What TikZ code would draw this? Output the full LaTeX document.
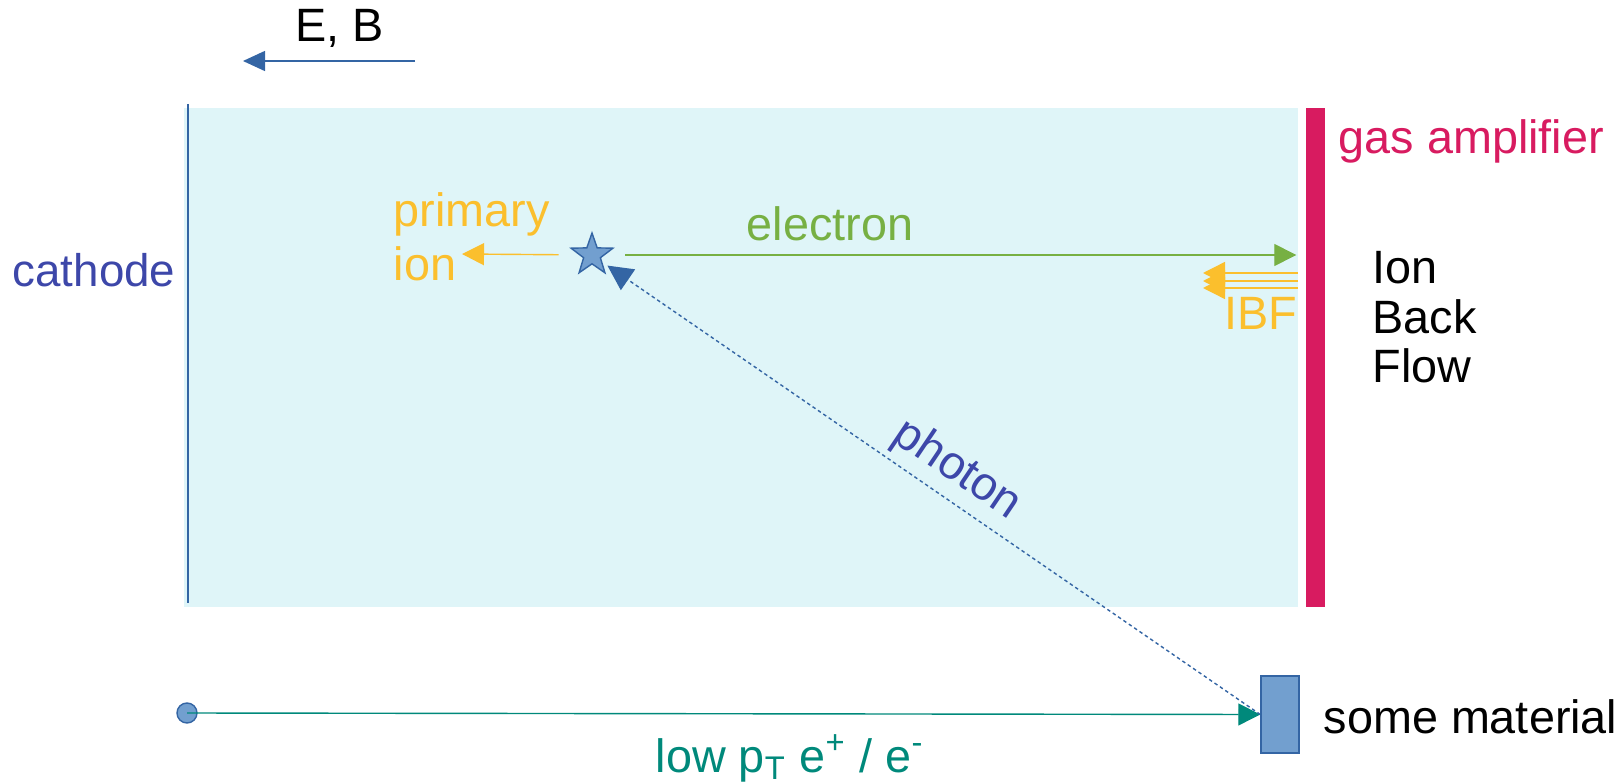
\documentclass[tikz,border=0pt]{standalone}
\usepackage{fontspec}
\setmainfont{Liberation Sans}
\usetikzlibrary{arrows.meta,shapes.geometric}
\definecolor{driftbg}{HTML}{DFF5F8}
\definecolor{darkblue}{HTML}{3465A4}
\definecolor{lightblue}{HTML}{729FCF}
\definecolor{indigo}{HTML}{3D47A9}
\definecolor{amber}{HTML}{FBBF2D}
\definecolor{leaf}{HTML}{77B043}
\definecolor{tealgreen}{HTML}{00897B}
\definecolor{rosered}{HTML}{D81B60}
\begin{document}
\begin{tikzpicture}[x=0.01cm,y=-0.01cm,
  lbl/.style={inner sep=0pt,font=\fontsize{13.3}{14.2}\selectfont},
  tip/.style={-{Triangle[length=2.2mm,width=2.2mm]}},
  thinline/.style={line width=0.4pt}]
\useasboundingbox (0,0) rectangle (1621,782);
% drift volume
\fill[driftbg] (184,108) rectangle (1298,607);
\draw[darkblue,line width=0.7pt] (188,104) -- (188,603);
\node[fill=rosered,inner sep=0pt,minimum width=1.9mm,minimum height=4.99cm] (amp) at (1315.5,357.5) {};
% labels
\node[lbl,anchor=base west] (eb) at (295,42) {E, B};
\node[lbl,text=indigo,anchor=base west,font=\fontsize{13}{14}\selectfont] (cath) at (12,287) {cathode};
\node[lbl,text=rosered,anchor=base west] (gas) at (1338,154) {gas amplifier};
\node[lbl,anchor=base west,align=left] (ibflab) at (1372,383) {Ion\\Back\\Flow};
\node[lbl,text=amber,anchor=base west,align=left,font=\fontsize{13.3}{15.6}\selectfont] (pion) at (393,281) {primary\\ion};
\node[lbl,text=leaf,anchor=base] (elab) at (830,241) {electron};
\node[lbl,text=amber,anchor=base east] (ibf) at (1298,329) {IBF};
\node[lbl,text=indigo,rotate=-34] (phlab) at (957,470) {photon};
\node[lbl,anchor=base west] (matlab) at (1323,733) {some material};
\node[lbl,text=tealgreen,anchor=base west] (trklab) at (655,772) {low p\textsubscript{T} e\textsuperscript{+} / e\textsuperscript{-}};
% field direction
\coordinate (ebfrom) at (415,61);
\coordinate (ebto) at (243,61);
\draw[thinline,darkblue,-{Triangle[length=2.2mm,width=2mm]}] (ebfrom) -- (ebto);
% conversion point
\node[star,star points=5,star point ratio=2.5,draw=darkblue,fill=lightblue,minimum size=4.4mm,inner sep=0pt] (hit) at (592,255) {};
\coordinate (ionend) at (462,254);
\draw[thinline,amber,tip,shorten <=2mm] (hit) -- (ionend);
\draw[thinline,leaf,tip,shorten <=2mm,shorten >=0.9mm] (hit) -- (hit -| amp.west);
\foreach \yy in {273,281,288}
  \draw[thinline,amber,tip] (1298,\yy) -- (1203,\yy);
% track and material
\node[circle,fill=lightblue,draw=darkblue,minimum size=2mm,inner sep=0pt] (src) at (187,713) {};
\node[fill=lightblue,draw=darkblue,inner sep=0pt,minimum width=3.8mm,minimum height=7.7mm] (mat) at (1280,714.5) {};
\draw[thinline,tealgreen,tip] (src.center) -- (mat.west);
\draw[thinline,darkblue,dash pattern=on 0.35mm off 0.3mm,shorten >=0.6mm,-{Triangle[length=2.5mm,width=2.5mm]}] (mat.west) -- (hit);
\end{tikzpicture}
\end{document}
